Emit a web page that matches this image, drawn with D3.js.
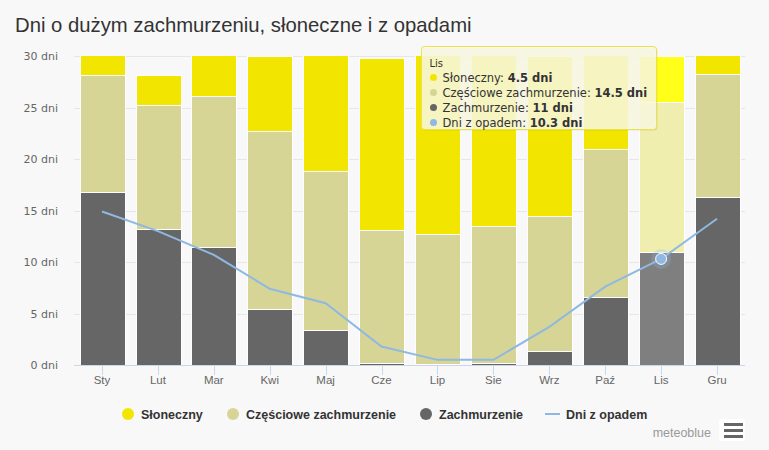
<!DOCTYPE html>
<html>
<head>
<meta charset="utf-8">
<script src="https://cdn.jsdelivr.net/npm/d3@7"></script>
<style>
  body { margin: 0; background: #f8f8f8; }
  svg { display: block; }
</style>
</head>
<body>
<svg id="chart" width="769" height="450"></svg>
<script>
const months = ['Sty', 'Lut', 'Mar', 'Kwi', 'Maj', 'Cze', 'Lip', 'Sie', 'Wrz', 'Paź', 'Lis', 'Gru']
const sunny = [2.8, 3.0, 4.9, 7.3, 12.2, 16.7, 18.3, 17.5, 15.5, 10.0, 4.5, 2.7]
const partly = [11.4, 12.0, 14.6, 17.3, 15.4, 12.9, 12.6, 13.3, 13.1, 14.4, 14.5, 12.0]
const overcast = [16.8, 13.2, 11.5, 5.4, 3.4, 0.2, 0.1, 0.2, 1.4, 6.6, 11, 16.3]
const precip = [14.9, 13.0, 10.7, 7.4, 6.0, 1.8, 0.5, 0.5, 3.7, 7.6, 10.3, 14.2]
const yTicks = [0, 5, 10, 15, 20, 25, 30]

const seriesNames = ['Słoneczny', 'Częściowe zachmurzenie', 'Zachmurzenie', 'Dni z opadem']
const colors = ['#f2e600', '#d7d596', '#666666', '#8fb8e2']
const hoverIdx = 10

const plotLeft = 74, plotRight = 745, plotTop = 56, plotBottom = 365

const svg = d3.select('#chart')

// highcharts style brighten
const brighten = (c) => {
  const col = d3.rgb(c)
  return d3.rgb(Math.min(255, col.r + 25), Math.min(255, col.g + 25), Math.min(255, col.b + 25)).toString()
}

const x = d3.scaleBand().domain(months).range([plotLeft, plotRight]).paddingInner(0.2).paddingOuter(0.1)
const xc = d3.scalePoint().domain(months).range([plotLeft, plotRight]).padding(0.5)
const y = d3.scaleLinear().domain([0, 30]).range([plotBottom, plotTop])

svg.append('text')
   .attr('x', 15).attr('y', 32)
   .text('Dni o dużym zachmurzeniu, słoneczne i z opadami')
   .style('font-family', 'Liberation Sans, Arial, sans-serif')
   .style('font-size', '20.3px')
   .style('fill', '#333')

// grid
svg.append('g').selectAll('line')
   .data(yTicks.filter(t => t > 0))
   .enter().append('line')
   .attr('x1', plotLeft).attr('x2', plotRight)
   .attr('y1', d => Math.round(y(d)) + 0.5).attr('y2', d => Math.round(y(d)) + 0.5)
   .style('stroke', '#e6e6e6')

svg.append('g').selectAll('text')
   .data(yTicks)
   .enter().append('text')
   .attr('x', 58).attr('y', d => y(d) + 4)
   .attr('text-anchor', 'end')
   .text(d => d + ' dni')
   .style('font-family', 'DejaVu Sans, sans-serif')
   .style('font-size', '11px')
   .style('fill', '#666')

svg.append('clipPath').attr('id', 'clip')
   .append('rect').attr('x', plotLeft).attr('y', plotTop).attr('width', plotRight - plotLeft).attr('height', plotBottom - plotTop)

// stacked columns
const stackData = months.map((m, i) => ({ month: m, overcast: overcast[i], partly: partly[i], sunny: sunny[i] }))
const stack = d3.stack().keys(['overcast', 'partly', 'sunny'])(stackData)
const keyColor = { overcast: colors[2], partly: colors[1], sunny: colors[0] }

const bars = svg.append('g').attr('clip-path', 'url(#clip)')
stack.forEach(layer => {
  bars.selectAll(null)
      .data(layer)
      .enter().append('rect')
      .attr('x', d => Math.round(x(d.data.month)) + 0.5)
      .attr('width', Math.round(x.bandwidth()))
      .attr('y', d => Math.round(y(d[1])) + 0.5)
      .attr('height', d => Math.max(0, Math.round(y(d[0])) - Math.round(y(d[1]))))
      .attr('fill', (d, i) => i == hoverIdx ? brighten(keyColor[layer.key]) : keyColor[layer.key])
      .style('stroke', '#fff')
      .style('stroke-width', 1)
})

// x axis
svg.append('line')
   .attr('x1', plotLeft).attr('x2', plotRight)
   .attr('y1', plotBottom + 0.5).attr('y2', plotBottom + 0.5)
   .style('stroke', '#ccd6eb')

const xAxis = svg.append('g')
xAxis.selectAll('line')
     .data(months)
     .enter().append('line')
     .attr('x1', d => Math.round(xc(d)) + 0.5).attr('x2', d => Math.round(xc(d)) + 0.5)
     .attr('y1', plotBottom).attr('y2', plotBottom + 10)
     .style('stroke', '#ccd6eb')
xAxis.selectAll('text')
     .data(months)
     .enter().append('text')
     .attr('x', d => xc(d)).attr('y', 384)
     .attr('text-anchor', 'middle')
     .text(d => d)
     .style('font-family', 'Liberation Sans, Arial, sans-serif')
     .style('font-size', '11.5px')
     .style('fill', '#666')

// precipitation line
const line = d3.line().x((d, i) => xc(months[i])).y(d => y(d))
svg.append('path')
   .datum(precip)
   .attr('d', line)
   .attr('fill', 'none')
   .style('stroke', colors[3])
   .style('stroke-width', 2)

svg.append('circle')
   .attr('cx', xc(months[hoverIdx])).attr('cy', y(precip[hoverIdx]))
   .attr('r', 10)
   .attr('fill', colors[3]).attr('fill-opacity', 0.25)
svg.append('circle')
   .attr('cx', xc(months[hoverIdx])).attr('cy', y(precip[hoverIdx]))
   .attr('r', 5.5)
   .attr('fill', colors[3])
   .style('stroke', '#fff').style('stroke-width', 1)

// legend
const legendItems = [
  { name: seriesNames[0], color: colors[0], x: 128, type: 'dot' },
  { name: seriesNames[1], color: colors[1], x: 233, type: 'dot' },
  { name: seriesNames[2], color: colors[2], x: 426, type: 'dot' },
  { name: seriesNames[3], color: colors[3], x: 545, type: 'line' }
]
const legend = svg.append('g').selectAll('g')
                  .data(legendItems)
                  .enter().append('g')
                  .attr('transform', d => 'translate(' + d.x + ', 414)')
legend.filter(d => d.type == 'dot').append('circle')
      .attr('r', 6).attr('fill', d => d.color)
legend.filter(d => d.type == 'line').append('line')
      .attr('x1', 0).attr('x2', 15).attr('y1', 0).attr('y2', 0)
      .style('stroke', d => d.color).style('stroke-width', 2)
legend.append('text')
      .attr('x', d => d.type == 'dot' ? 13 : 21).attr('y', 4.5)
      .text(d => d.name)
      .style('font-family', 'Liberation Sans, Arial, sans-serif')
      .style('font-size', '12.5px')
      .style('font-weight', 'bold')
      .style('fill', '#333')

// credits + menu
svg.append('text')
   .attr('x', 711).attr('y', 437)
   .attr('text-anchor', 'end')
   .text('meteoblue')
   .style('font-family', 'Liberation Sans, Arial, sans-serif')
   .style('font-size', '12.5px')
   .style('fill', '#999')
svg.append('rect').attr('x', 719).attr('y', 419).attr('width', 26).attr('height', 22).attr('rx', 2).attr('fill', '#fff')
svg.append('g').selectAll('rect')
   .data([0, 1, 2])
   .enter().append('rect')
   .attr('x', 724).attr('y', d => 423 + d * 6)
   .attr('width', 19).attr('height', 3)
   .attr('fill', '#666')

// tooltip
const tip = svg.append('g').attr('transform', 'translate(421.5, 46.5)')
tip.append('rect')
   .attr('x', 1).attr('y', 1).attr('width', 235).attr('height', 83).attr('rx', 3)
   .attr('fill', 'rgba(0,0,0,0.08)')
tip.append('rect')
   .attr('width', 235).attr('height', 83).attr('rx', 3)
   .attr('fill', 'rgba(250,249,226,0.85)')
   .style('stroke', '#e9e24a').style('stroke-width', 1)
tip.append('text')
   .attr('x', 8).attr('y', 20)
   .text(months[hoverIdx])
   .style('font-family', 'DejaVu Sans, sans-serif')
   .style('font-size', '10px')
   .style('fill', '#333')
const tipRows = [
  { name: seriesNames[0], color: colors[0], value: sunny[hoverIdx] },
  { name: seriesNames[1], color: colors[1], value: partly[hoverIdx] },
  { name: seriesNames[2], color: colors[2], value: overcast[hoverIdx] },
  { name: seriesNames[3], color: colors[3], value: precip[hoverIdx] }
]
const rows = tip.selectAll('g.row')
                .data(tipRows)
                .enter().append('g')
                .attr('transform', (d, i) => 'translate(8, ' + (35 + i * 15) + ')')
rows.append('circle').attr('cx', 4).attr('cy', -4).attr('r', 3.5).attr('fill', d => d.color)
const rowText = rows.append('text')
                    .attr('x', 13)
                    .style('font-family', 'DejaVu Sans, sans-serif')
                    .style('font-size', '11.5px')
                    .style('fill', '#333')
rowText.append('tspan').text(d => d.name + ': ')
rowText.append('tspan').text(d => d.value + ' dni').style('font-weight', 'bold')
</script>
</body>
</html>
